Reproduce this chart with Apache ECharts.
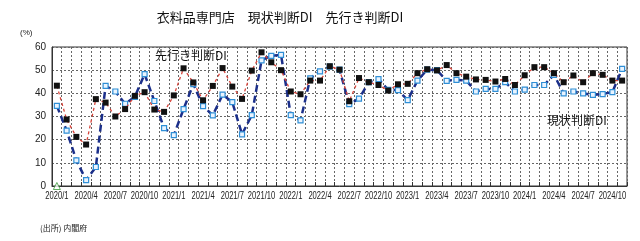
<!DOCTYPE html>
<html><head><meta charset="utf-8">
<script src="https://cdn.jsdelivr.net/npm/echarts@6/dist/echarts.min.js"></script>
<style>html,body{margin:0;padding:0;background:#fff}#c{width:640px;height:241px}</style>
</head><body><div id="c"></div>
<script>
const categories = [
  '2020/1','2020/2','2020/3','2020/4','2020/5','2020/6','2020/7','2020/8','2020/9','2020/10','2020/11','2020/12',
  '2021/1','2021/2','2021/3','2021/4','2021/5','2021/6','2021/7','2021/8','2021/9','2021/10','2021/11','2021/12',
  '2022/1','2022/2','2022/3','2022/4','2022/5','2022/6','2022/7','2022/8','2022/9','2022/10','2022/11','2022/12',
  '2023/1','2023/2','2023/3','2023/4','2023/5','2023/6','2023/7','2023/8','2023/9','2023/10','2023/11','2023/12',
  '2024/1','2024/2','2024/3','2024/4','2024/5','2024/6','2024/7','2024/8','2024/9','2024/10','2024/11'
];
// 先行き判断DI
const outlookDI = [
  43.3, 28.7, 21.2, 17.9, 37.5, 36.0, 30.0, 33.2, 38.9, 40.5, 33.0, 32.0,
  39.1, 50.8, 44.7, 37.0, 43.2, 50.9, 42.9, 37.6, 49.8, 57.7, 53.4, 50.0,
  40.8, 39.6, 45.5, 45.5, 51.7, 50.2, 36.6, 46.6, 44.8, 43.6, 41.2, 43.9,
  44.1, 48.7, 50.4, 49.9, 52.2, 48.7, 47.2, 46.0, 45.8, 45.1, 46.2, 43.6,
  47.8, 51.3, 51.3, 48.7, 44.8, 47.7, 44.8, 48.7, 48.0, 45.5, 45.5
];
// 現状判断DI
const currentDI = [
  34.6, 23.9, 11.1, 2.5, 8.2, 43.2, 40.8, 35.5, 38.5, 48.3, 36.7, 25.0,
  22.0, 33.2, 44.0, 34.5, 30.5, 39.4, 36.2, 22.3, 30.6, 54.2, 56.2, 56.6,
  30.6, 28.3, 46.5, 49.5, 51.5, 50.2, 35.3, 37.7, 44.8, 46.1, 41.5, 41.4,
  37.1, 45.5, 50.2, 50.0, 45.4, 45.8, 45.5, 40.8, 41.9, 41.9, 44.8, 40.8,
  41.6, 43.6, 43.6, 48.0, 40.0, 40.8, 40.0, 39.3, 39.7, 40.5, 50.6
];
const markerValues = [0];
const yTicks = [0, 10, 20, 30, 40, 50, 60];
const xLabelStep = 3;

const jp = '"Noto Sans CJK JP", sans-serif';
const latin = '"Liberation Sans", Arial, sans-serif';

const chart = echarts.init(document.getElementById('c'), null, {renderer: 'canvas'});
const baseGraphics = [
  {type: 'text', x: 280, y: 17, style: {text: '衣料品専門店　現状判断DI　先行き判断DI', font: '13px ' + jp, fill: '#111', textAlign: 'center', textVerticalAlign: 'middle'}},
  {type: 'text', x: 20, y: 33, style: {text: '(%)', font: '8px ' + latin, fill: '#222', textVerticalAlign: 'middle'}},
  {type: 'text', x: 155, y: 55, z: 10, style: {text: '先行き判断DI', font: '12px ' + jp, fill: '#111', textVerticalAlign: 'middle'}},
  {type: 'text', x: 547, y: 120, z: 10, style: {text: '現状判断DI', font: '12px ' + jp, fill: '#111', textVerticalAlign: 'middle'}},
  {type: 'text', x: 40, y: 228, style: {text: '(出所) 内閣府', font: '8px ' + jp, fill: '#222', textVerticalAlign: 'middle'}}
];
chart.setOption({
  animation: false,
  backgroundColor: '#fff',
  grid: {left: 52, right: 13, top: 47, bottom: 55, show: true, borderColor: '#333', borderWidth: 1, containLabel: false},
  xAxis: {
    type: 'category', data: categories, boundaryGap: true,
    axisLine: {show: true, lineStyle: {color: '#333', width: 1}},
    axisTick: {show: true, inside: true, length: 4, interval: 0, lineStyle: {color: '#333'}},
    axisLabel: {show: false},
    splitLine: {show: true, interval: 0, lineStyle: {color: '#666', type: [2, 2], width: 1}}
  },
  yAxis: {
    type: 'value', min: yTicks[0], max: yTicks[yTicks.length - 1], interval: 10,
    axisLine: {show: true, lineStyle: {color: '#333', width: 1}},
    axisTick: {show: false},
    axisLabel: {fontSize: 10, color: '#222', margin: 6, fontFamily: latin},
    splitLine: {show: true, lineStyle: {color: '#666', type: [2, 2], width: 1}}
  },
  series: [
    {
      name: '現状判断DI', type: 'line', data: currentDI, z: 2,
      symbol: 'rect', symbolSize: 5, showAllSymbol: true,
      itemStyle: {color: '#eaf4ff', borderColor: '#2f8fd6', borderWidth: 1.2},
      lineStyle: {color: '#1b2f8a', width: 2.5, type: [7, 4]}
    },
    {
      name: '先行き判断DI', type: 'line', data: outlookDI, z: 3,
      symbol: 'rect', symbolSize: 6, showAllSymbol: true,
      itemStyle: {color: '#111'},
      lineStyle: {color: '#d9443a', width: 1.3, type: [3, 3]}
    },
    {
      name: 'marker', type: 'scatter', z: 4, clip: false,
      data: markerValues.map((v, i) => [categories[i], v]),
      symbol: 'triangle', symbolSize: 7,
      itemStyle: {color: '#fff', borderColor: '#3a9a3a', borderWidth: 1}
    }
  ],
  graphic: baseGraphics
});

// Condensed category labels placed through the axis scale
const labelGraphics = [];
for (let i = 0; i < categories.length; i += xLabelStep) {
  const p = chart.convertToPixel({xAxisIndex: 0, yAxisIndex: 0}, [categories[i], yTicks[0]]);
  labelGraphics.push({
    type: 'text', x: p[0], y: p[1] + 5, scaleX: 0.76, silent: true,
    style: {text: categories[i], font: '10px ' + latin, fill: '#222', textAlign: 'center', textVerticalAlign: 'top'}
  });
}
chart.setOption({graphic: baseGraphics.concat(labelGraphics)}, {replaceMerge: ['graphic']});
</script></body></html>
